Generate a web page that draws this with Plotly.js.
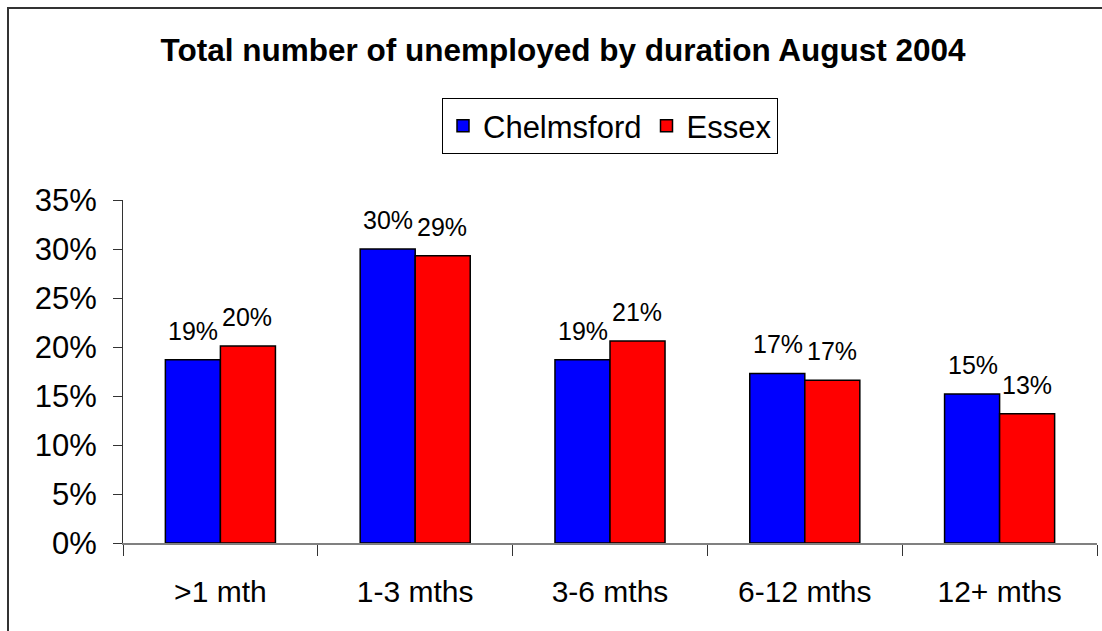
<!DOCTYPE html>
<html>
<head>
<meta charset="utf-8">
<script src="https://cdn.plot.ly/plotly-3.0.1.min.js"></script>
<style>
  html, body { margin: 0; padding: 0; background: #fff; }
  #wrap { position: relative; width: 1102px; height: 631px; overflow: hidden; }
  #chart { position: absolute; left: 0; top: 0; width: 1102px; height: 631px; }
  #frame { position: absolute; left: 7px; top: 7px; width: 1200px; height: 700px;
           border-left: 2px solid #333; border-top: 2px solid #333; pointer-events: none; }
</style>
</head>
<body>
<div id="wrap">
  <div id="chart"></div>
  <div id="frame"></div>
</div>
<script>
const categories = ['>1 mth', '1-3 mths', '3-6 mths', '6-12 mths', '12+ mths'];
const chelmsford = [18.7, 30.0, 18.7, 17.3, 15.2];
const essex = [20.1, 29.3, 20.6, 16.6, 13.2];
const seriesNames = ['Chelmsford', 'Essex'];
const yTicks = [0, 5, 10, 15, 20, 25, 30, 35];

const FONT = 'Liberation Sans, Arial, Helvetica, sans-serif';

const traces = [
  { type: 'bar', name: seriesNames[0], x: categories, y: chelmsford,
    marker: { color: '#0000FF', line: { color: '#000', width: 1.5 } }, hoverinfo: 'none' },
  { type: 'bar', name: seriesNames[1], x: categories, y: essex,
    marker: { color: '#FF0000', line: { color: '#000', width: 1.5 } }, hoverinfo: 'none' }
];

const annotations = [];
[chelmsford, essex].forEach((vals, s) => {
  vals.forEach((v, i) => {
    annotations.push({
      x: categories[i], y: v, xref: 'x', yref: 'y',
      text: Math.round(v) + '%', showarrow: false,
      xanchor: 'center', yanchor: 'bottom',
      xshift: s === 0 ? -27 : 27, yshift: 13,
      font: { family: FONT, size: 25, color: '#000' }
    });
  });
});

const layout = {
  width: 1102, height: 631,
  margin: { l: 123, r: 5, t: 200, b: 88 },
  paper_bgcolor: '#fff', plot_bgcolor: '#fff',
  font: { family: FONT, color: '#000' },
  title: {
    text: '<b>Total number of unemployed by duration August 2004</b>',
    font: { family: FONT, size: 31.5, color: '#000' },
    xref: 'container', yref: 'container', x: 0.511, y: 0.921,
    xanchor: 'center', yanchor: 'middle'
  },
  barmode: 'group', bargap: 0.435, bargroupgap: 0,
  showlegend: true,
  legend: {
    orientation: 'h', x: 0.5, xanchor: 'center', y: 1.297, yanchor: 'top',
    bordercolor: '#000', borderwidth: 1, bgcolor: '#fff',
    font: { family: FONT, size: 31, color: '#000' },
    traceorder: 'normal'
  },
  xaxis: {
    type: 'category', showline: true, linecolor: '#808080', linewidth: 2,
    ticks: 'outside', tickson: 'boundaries', ticklen: 11, tickcolor: '#333', tickwidth: 1,
    tickfont: { family: FONT, size: 30, color: '#000' },
    ticklabelstandoff: 21,
    showgrid: false, zeroline: false, fixedrange: true
  },
  yaxis: {
    range: [0, 35], tickvals: yTicks, ticktext: yTicks.map(t => t + '%'),
    showline: true, linecolor: '#333', linewidth: 1,
    ticks: 'outside', ticklen: 9, tickcolor: '#333', tickwidth: 1,
    tickfont: { family: FONT, size: 31, color: '#000' },
    ticklabelstandoff: 10,
    showgrid: false, zeroline: false, fixedrange: true
  },
  annotations: annotations
};

Plotly.newPlot('chart', traces, layout, { displayModeBar: false, staticPlot: true });
</script>
</body>
</html>
